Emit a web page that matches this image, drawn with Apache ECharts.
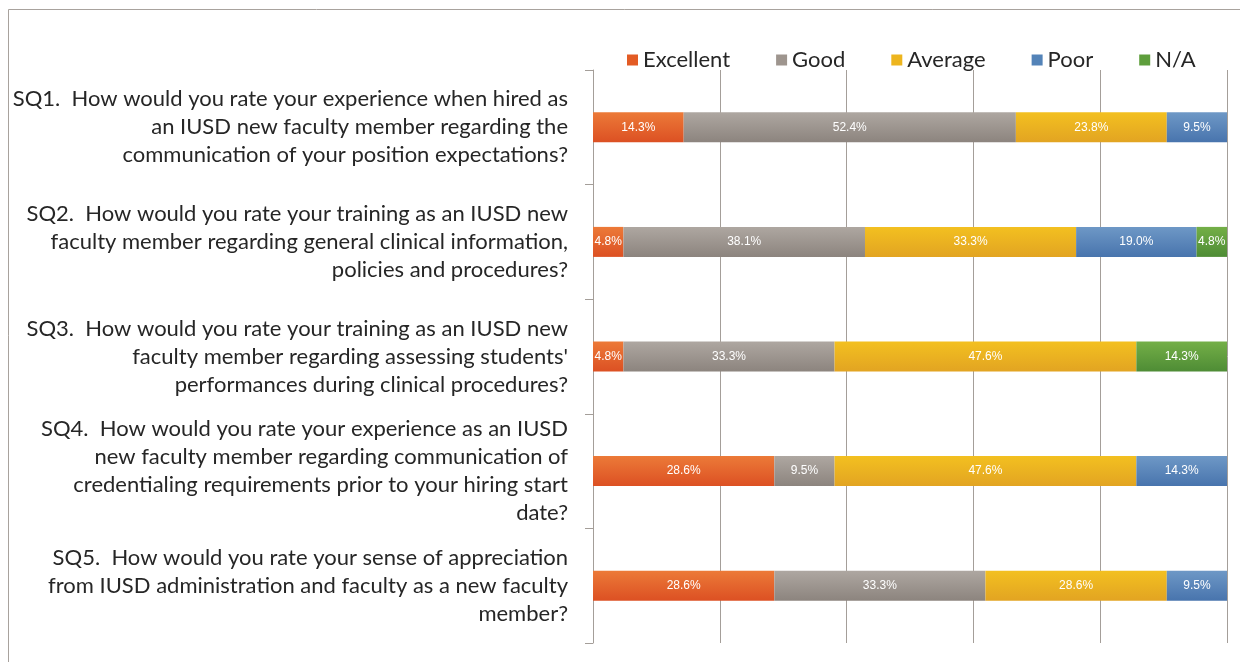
<!DOCTYPE html>
<html>
<head>
<meta charset="utf-8">
<script src="https://cdn.jsdelivr.net/npm/echarts@6/dist/echarts.min.js"></script>
<style>
html,body{margin:0;padding:0;background:#fff;}
#chart{width:1248px;height:662px;}
</style>
</head>
<body>
<div id="chart"></div>
<script>
const categories = [
  "SQ1.  How would you rate your experience when hired as\nan IUSD new faculty member regarding the\ncommunication of your position expectations?",
  "SQ2.  How would you rate your training as an IUSD new\nfaculty member regarding general clinical information,\npolicies and procedures?",
  "SQ3.  How would you rate your training as an IUSD new\nfaculty member regarding assessing students'\nperformances during clinical procedures?",
  "SQ4.  How would you rate your experience as an IUSD\nnew faculty member regarding communication of\ncredentialing requirements prior to your hiring start\ndate?",
  "SQ5.  How would you rate your sense of appreciation\nfrom IUSD administration and faculty as a new faculty\nmember?"
];
const seriesNames = ["Excellent", "Good", "Average", "Poor", "N/A"];
const excellent = [14.3, 4.8, 4.8, 28.6, 28.6];
const good      = [52.4, 38.1, 33.3, 9.5, 33.3];
const average   = [23.8, 33.3, 47.6, 47.6, 28.6];
const poor      = [9.5, 19.0, 0, 14.3, 9.5];
const na        = [0, 4.8, 14.3, 0, 0];
const xTicks = [0, 20, 40, 60, 80, 100];

const values = [excellent, good, average, poor, na];
const colorTop = ["#EC7A38", "#AEA7A1", "#F3C020", "#6E98C6", "#74AF47"];
const colorBot = ["#DC5023", "#8C847E", "#E2A422", "#4874AD", "#4E8C35"];
const legendColor = ["#E35B24", "#9E958E", "#EDB51E", "#5383B8", "#5E9E3C"];
const FONT = 'Lato, "Liberation Sans", sans-serif';

const chart = echarts.init(document.getElementById('chart'));
const series = seriesNames.map((name, i) => ({
  name: name,
  type: 'bar',
  stack: 'total',
  barWidth: 30,
  data: values[i],
  itemStyle: {
    color: new echarts.graphic.LinearGradient(0, 0, 0, 1, [
      {offset: 0, color: colorTop[i]},
      {offset: 1, color: colorBot[i]}
    ])
  },
  label: {
    show: true,
    position: 'inside',
    color: '#fff',
    fontSize: 12,
    fontFamily: '"Liberation Sans Narrow", "Liberation Sans", sans-serif',
    formatter: p => p.value > 0 ? p.value.toFixed(1) + '%' : ''
  },
  emphasis: {disabled: true}
}));

chart.setOption({
  animation: false,
  backgroundColor: '#fff',
  legend: {
    data: seriesNames.map((n, i) => ({name: n, itemStyle: {color: legendColor[i]}})),
    left: 622,
    top: 44,
    icon: 'rect',
    itemWidth: 11,
    itemHeight: 11,
    itemGap: 46,
    textStyle: {fontSize: 22, color: '#262626', fontFamily: FONT}
  },
  grid: {left: 593, right: 21, top: 70, bottom: 19, containLabel: false},
  xAxis: {
    type: 'value',
    min: 0,
    max: 100,
    interval: 20,
    axisLabel: {show: false},
    axisLine: {show: false},
    axisTick: {show: false},
    splitLine: {show: true, lineStyle: {color: '#A49E99', width: 1}}
  },
  yAxis: {
    type: 'category',
    inverse: true,
    data: categories,
    axisLine: {show: true, lineStyle: {color: '#A49E99', width: 1}},
    axisTick: {show: true, length: 8, interval: 0, lineStyle: {color: '#A49E99'}},
    axisLabel: {
      interval: 0,
      margin: 25,
      fontSize: 22,
      lineHeight: 28,
      color: '#262626',
      align: 'right',
      fontFamily: FONT
    }
  },
  graphic: [
    {type: 'line', shape: {x1: 8.5, y1: 9.5, x2: 1240, y2: 9.5}, style: {stroke: '#A8A29D', lineWidth: 1}},
    {type: 'line', shape: {x1: 8.5, y1: 9.5, x2: 8.5, y2: 662}, style: {stroke: '#A8A29D', lineWidth: 1}}
  ],
  series: series
});
</script>
</body>
</html>
